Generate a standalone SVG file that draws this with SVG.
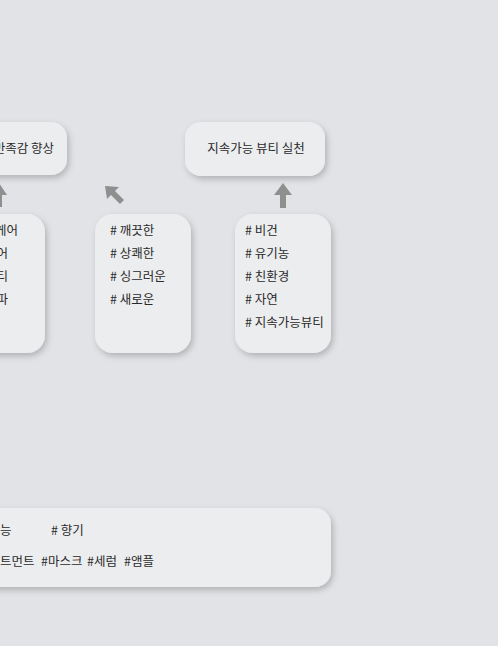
<svg xmlns="http://www.w3.org/2000/svg" width="498" height="646" viewBox="0 0 498 646">
<style>
.box{fill:#ecedef;filter:url(#sh)}
.t{font-family:"Noto Sans CJK KR","Noto Sans",sans-serif;font-size:12.5px;fill:#2a2a2a}
.arr{fill:#8f8f8f}
</style>
<defs>
<filter id="sh" x="-20%" y="-20%" width="140%" height="150%">
<feDropShadow dx="2" dy="3" stdDeviation="3" flood-color="#000" flood-opacity="0.22"/>
</filter>
</defs>
<rect width="498" height="646" fill="#e2e3e6"/>
<g id="goal1">
<rect class="box" x="-100" y="122" width="167" height="53" rx="16"/>
<text class="t" x="54" y="153" text-anchor="end">만족감 향상</text>
</g>
<g id="goal2">
<rect class="box" x="185" y="122" width="140" height="54" rx="16"/>
<text class="t" x="256" y="153" text-anchor="middle">지속가능 뷰티 실천</text>
</g>
<g id="tags1">
<rect class="box" x="-60" y="214" width="105" height="139" rx="18"/>
<text class="t" x="18" y="235" text-anchor="end">케어</text>
<text class="t" x="8" y="258" text-anchor="end">어</text>
<text class="t" x="8" y="281" text-anchor="end">티</text>
<text class="t" x="8" y="304" text-anchor="end">파</text>
</g>
<g id="tags2">
<rect class="box" x="95" y="214" width="96" height="139" rx="18"/>
<text class="t" x="110" y="235"># 깨끗한</text>
<text class="t" x="110" y="258"># 상쾌한</text>
<text class="t" x="110" y="281"># 싱그러운</text>
<text class="t" x="110" y="304"># 새로운</text>
</g>
<g id="tags3">
<rect class="box" x="235" y="214" width="96" height="139" rx="18"/>
<text class="t" x="245" y="235"># 비건</text>
<text class="t" x="245" y="258"># 유기농</text>
<text class="t" x="245" y="281"># 친환경</text>
<text class="t" x="245" y="304"># 자연</text>
<text class="t" x="245" y="327"># 지속가능뷰티</text>
</g>
<g id="bottom">
<rect class="box" x="-100" y="508" width="431" height="79" rx="16"/>
<text class="t" x="0" y="535">능</text>
<text class="t" x="51" y="535"># 향기</text>
<text class="t" x="0" y="566">트먼트</text>
<text class="t" x="41" y="566">#마스크</text>
<text class="t" x="87" y="566">#세럼</text>
<text class="t" x="124" y="566">#앰플</text>
</g>
<g id="connectors">
<path class="arr" d="M-1,183 L7,195 L2,195 L2,207 L-4,207 L-4,195 L-9,195 Z"/>
<path class="arr" d="M105,186 L119,187 L115,191 L124,200 L120,204 L111,195 L107,199 Z"/>
<path class="arr" d="M283,183 L292,195 L286,195 L286,208 L280,208 L280,195 L274,195 Z"/>
</g>
</svg>
